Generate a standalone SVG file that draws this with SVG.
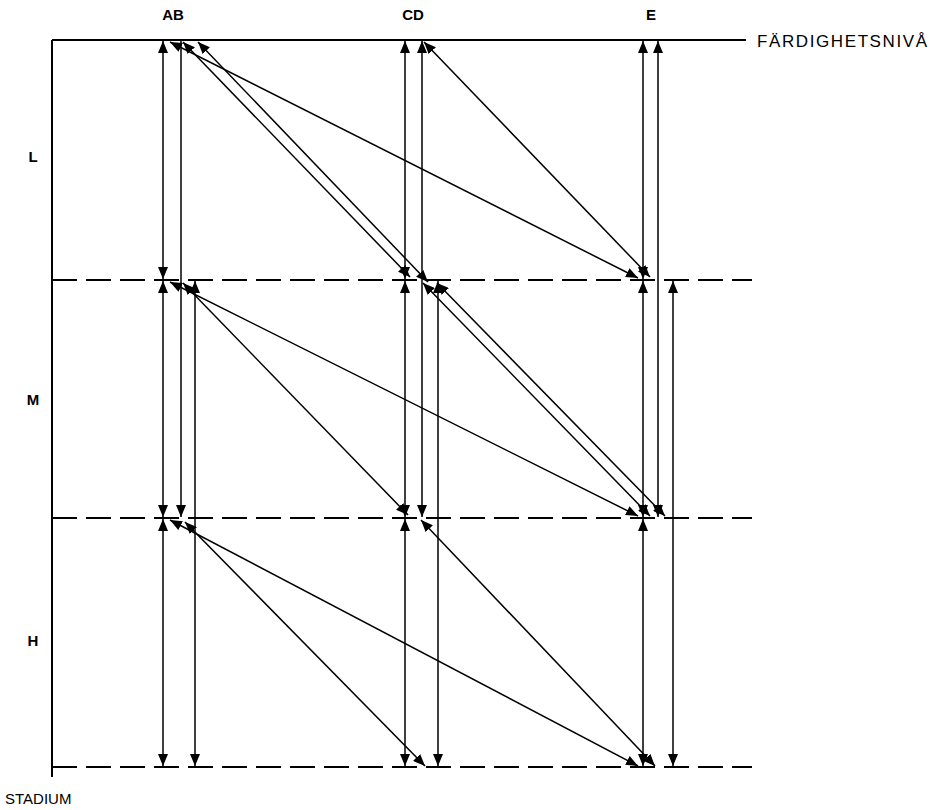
<svg xmlns="http://www.w3.org/2000/svg" width="937" height="810" viewBox="0 0 937 810">
<style>
.ln{stroke:#000;stroke-width:1.5;fill:none}
.dbl{marker-start:url(#ah);marker-end:url(#ah)}
.end{marker-end:url(#ah)}
.ax{stroke:#000;stroke-width:2;fill:none}
.dash{stroke:#000;stroke-width:2.2;stroke-dasharray:25 9;fill:none}
.lb{font-family:"Liberation Sans",Arial,sans-serif;font-size:15px;font-weight:bold;fill:#000}
.tx{font-family:"Liberation Sans",Arial,sans-serif;font-size:15px;fill:#000}
</style>
<defs>
<marker id="ah" markerUnits="userSpaceOnUse" markerWidth="12" markerHeight="10" refX="12" refY="5" orient="auto-start-reverse" viewBox="0 0 12 10">
<path d="M0,0 L12,5 L0,10 z" fill="#000"/>
</marker>
</defs>
<g id="axes">
<line class="ax" x1="52" y1="40" x2="52" y2="777"/>
<line class="ax" x1="52" y1="40" x2="746" y2="40"/>
<line class="dash" x1="52" y1="280" x2="752" y2="280"/>
<line class="dash" x1="52" y1="518" x2="752" y2="518"/>
<line class="dash" x1="52" y1="767" x2="752" y2="767"/>
</g>
<g id="labels">
<text class="lb" x="173" y="20" text-anchor="middle">AB</text>
<text class="lb" x="413" y="20" text-anchor="middle">CD</text>
<text class="lb" x="651" y="20" text-anchor="middle">E</text>
<text class="lb" x="33" y="162" text-anchor="middle">L</text>
<text class="lb" x="33" y="405" text-anchor="middle">M</text>
<text class="lb" x="33" y="646" text-anchor="middle">H</text>
<text class="tx" x="757" y="47" style="font-size:17px;letter-spacing:1.6px">FÄRDIGHETSNIVÅ</text>
<text class="tx" x="5" y="804">STADIUM</text>
</g>
<g id="connectors">
<line class="ln dbl" x1="163" y1="41" x2="163" y2="279"/>
<line class="ln dbl" x1="163" y1="281" x2="163" y2="517"/>
<line class="ln dbl" x1="163" y1="519" x2="163" y2="766"/>
<line class="ln end" x1="181" y1="40" x2="181" y2="517"/>
<line class="ln dbl" x1="195" y1="281" x2="195" y2="766"/>
<line class="ln dbl" x1="405" y1="41" x2="405" y2="279"/>
<line class="ln dbl" x1="405" y1="281" x2="405" y2="517"/>
<line class="ln dbl" x1="405" y1="519" x2="405" y2="766"/>
<line class="ln dbl" x1="422" y1="41" x2="422" y2="517"/>
<line class="ln dbl" x1="438" y1="281" x2="438" y2="766"/>
<line class="ln dbl" x1="643" y1="41" x2="643" y2="279"/>
<line class="ln dbl" x1="643" y1="281" x2="643" y2="517"/>
<line class="ln dbl" x1="643" y1="519" x2="643" y2="766"/>
<line class="ln dbl" x1="658" y1="41" x2="658" y2="517"/>
<line class="ln dbl" x1="673" y1="281" x2="673" y2="766"/>
<line class="ln dbl" x1="170" y1="42" x2="638" y2="278"/>
<line class="ln dbl" x1="183" y1="42" x2="410" y2="277"/>
<line class="ln dbl" x1="198" y1="42" x2="428" y2="282"/>
<line class="ln dbl" x1="424" y1="42" x2="650" y2="277"/>
<line class="ln dbl" x1="170" y1="282" x2="638" y2="516"/>
<line class="ln dbl" x1="183" y1="283" x2="408" y2="515"/>
<line class="ln dbl" x1="423" y1="283" x2="650" y2="516"/>
<line class="ln dbl" x1="437" y1="283" x2="665" y2="516"/>
<line class="ln dbl" x1="170" y1="520" x2="638" y2="766"/>
<line class="ln dbl" x1="185" y1="522" x2="425" y2="766"/>
<line class="ln dbl" x1="421" y1="520" x2="655" y2="766"/>
</g>
</svg>
